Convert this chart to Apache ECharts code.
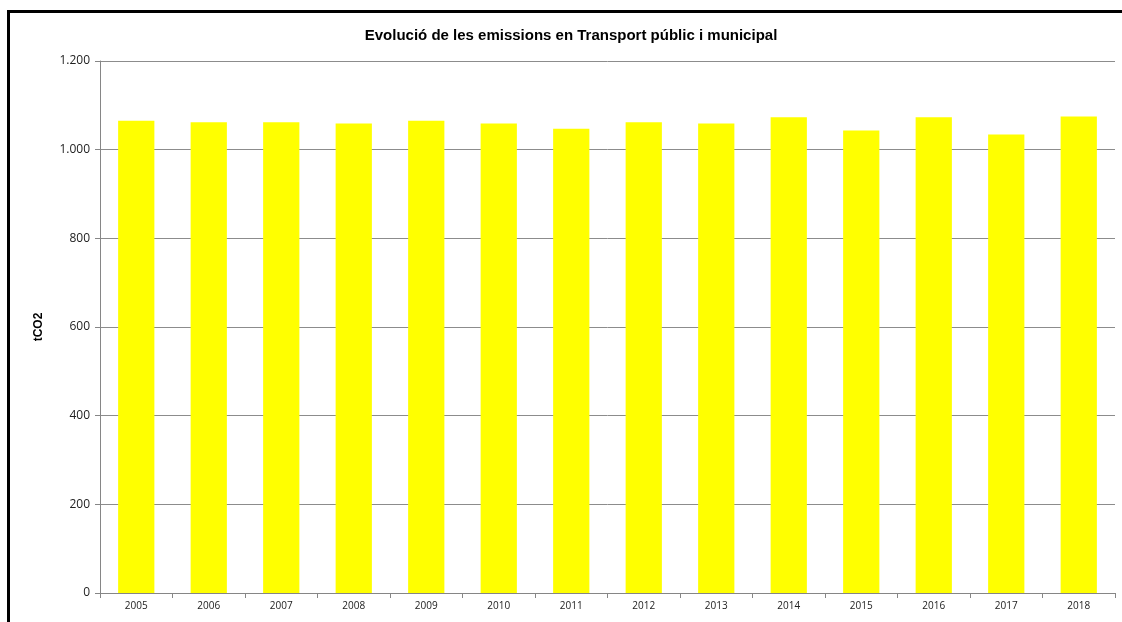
<!DOCTYPE html>
<html>
<head>
<meta charset="utf-8">
<script src="https://cdn.jsdelivr.net/npm/echarts@6/dist/echarts.min.js"></script>
<style>
  html, body { margin: 0; padding: 0; background: #fff; overflow: hidden; }
  #chart { width: 1122px; height: 622px; }
</style>
</head>
<body>
<div id="chart"></div>
<script>
// ======================
// DATOS
// ======================
const years = ["2005", "2006", "2007", "2008", "2009", "2010", "2011",
               "2012", "2013", "2014", "2015", "2016", "2017", "2018"];
const emissions = [1065, 1062, 1062, 1059, 1065, 1059, 1047,
                   1062, 1059, 1073, 1043, 1073, 1034, 1075];
const yTicks = [0, 200, 400, 600, 800, 1000, 1200];

const titleText = "Evolució de les emissions en Transport públic i municipal";
const yName = "tCO2";

// format 1.200 (punt de milers)
const fmt = v => String(v).replace(/\B(?=(\d{3})+(?!\d))/g, ".");

const chart = echarts.init(document.getElementById("chart"));
chart.setOption({
    backgroundColor: "#fff",
    animation: false,
    title: {
        text: titleText,
        left: 566,
        textAlign: "center",
        top: 23,
        textStyle: {
            fontFamily: "Liberation Sans, Arial, sans-serif",
            fontSize: 15,
            fontWeight: "bold",
            color: "#000"
        }
    },
    graphic: [{
        type: "rect",
        shape: { x: 8.5, y: 11.5, width: 1200, height: 700 },
        style: { fill: "none", stroke: "#000", lineWidth: 3 },
        silent: true
    }],
    grid: {
        left: 100,
        right: 7,
        top: 61,
        bottom: 29,
        containLabel: false
    },
    xAxis: {
        type: "category",
        data: years,
        axisLine: { lineStyle: { color: "#868686", width: 1 } },
        axisTick: { show: true, alignWithLabel: false, length: 5, lineStyle: { color: "#868686" } },
        axisLabel: {
            color: "#222",
            fontSize: 10,
            fontFamily: "Open Sans, Liberation Sans, sans-serif",
            margin: 8
        }
    },
    yAxis: {
        type: "value",
        min: yTicks[0],
        max: yTicks[yTicks.length - 1],
        interval: 200,
        name: yName,
        nameLocation: "middle",
        nameGap: 55,
        nameRotate: 90,
        nameTextStyle: {
            fontFamily: "Liberation Sans, Arial, sans-serif",
            fontSize: 12,
            fontWeight: "bold",
            color: "#000"
        },
        axisLine: { show: true, lineStyle: { color: "#868686", width: 1 } },
        axisTick: { show: true, length: 5, lineStyle: { color: "#868686" } },
        splitLine: { show: true, lineStyle: { color: "#8c8c8c", width: 1 } },
        axisLabel: {
            color: "#222",
            fontSize: 12,
            fontFamily: "Open Sans, Liberation Sans, sans-serif",
            margin: 10,
            formatter: v => fmt(v)
        }
    },
    series: [{
        type: "bar",
        data: emissions,
        barWidth: "50%",
        itemStyle: { color: "#ffff00" }
    }]
});
</script>
</body>
</html>
